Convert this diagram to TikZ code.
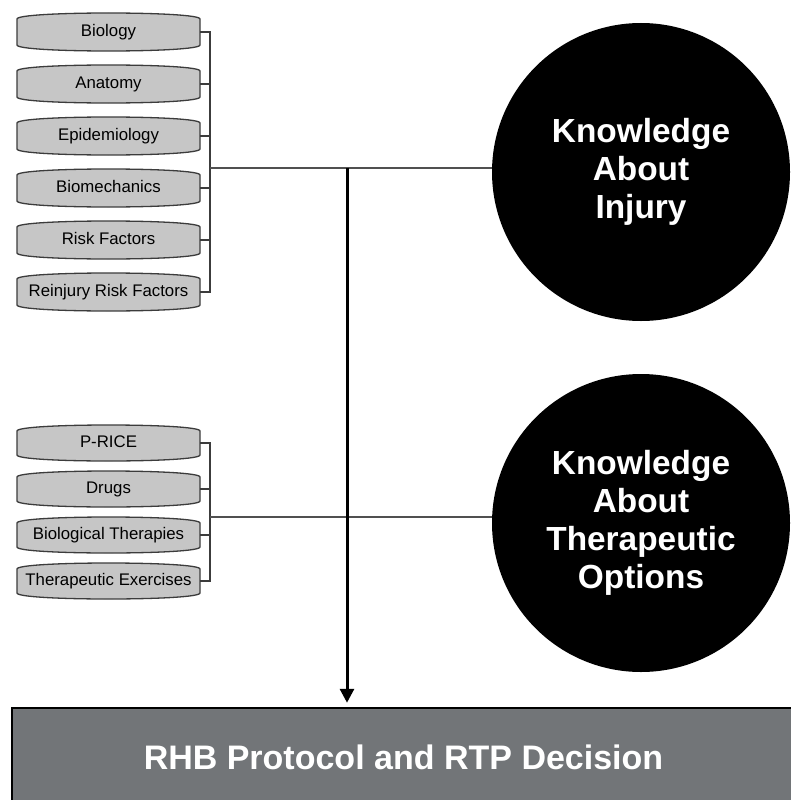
\documentclass[tikz,border=0pt]{standalone}
\usepackage{fontspec}
\setmainfont{Liberation Sans}
\usetikzlibrary{arrows.meta}
\definecolor{boxgray}{RGB}{198,198,198}
\definecolor{edgegray}{RGB}{60,60,60}
\definecolor{linegray}{RGB}{80,80,80}
\definecolor{basegray}{RGB}{114,117,120}
\tikzset{
  barrelline/.style={draw=edgegray, fill=boxgray, line width=1.3pt},
  boxlabel/.style={rectangle, inner sep=0pt, minimum width=183pt,
    font=\fontsize{16.8}{20}\selectfont, text height=0.88em, text depth=0pt},
  bubble/.style={circle, fill=black, inner sep=0pt, minimum size=298pt,
    text=white, align=center, font=\bfseries\fontsize{33.4}{38}\selectfont},
  bracketline/.style={draw=edgegray, line width=1.3pt},
  mainline/.style={draw=linegray, line width=2pt},
  arrowline/.style={draw=black, line width=3pt, -{Triangle[width=14pt,length=14pt]}, shorten >=4pt},
  basebox/.style={rectangle, draw=black, line width=2.5pt, fill=basegray,
    text=white, font=\bfseries\fontsize{34}{40}\selectfont,
    minimum width=783pt, minimum height=98pt, inner sep=0pt}
}
\newcommand\barrelbox[5]{%
  \path[barrelline] ({#2-91.5},{#3-#4/2+6}) -- ({#2-91.5},{#3+#4/2-6})
    .. controls ({#2-91.5},{#3+#4/2+2}) and ({#2+91.5},{#3+#4/2+2}) .. ({#2+91.5},{#3+#4/2-6})
    -- ({#2+91.5},{#3-#4/2+6})
    .. controls ({#2+91.5},{#3-#4/2-2}) and ({#2-91.5},{#3-#4/2-2}) .. cycle;
  \node[boxlabel, minimum height=#4] (#1) at (#2,#3) {#5};}
\begin{document}
\begin{tikzpicture}[x=1pt, y=-1pt]
\fill[white] (0,0) rectangle (791,800);
\useasboundingbox (0,0) rectangle (791,800);

% top group
\barrelbox{bio}{108.5}{32}{38}{Biology}
\barrelbox{ana}{108.5}{84}{38}{Anatomy}
\barrelbox{epi}{108.5}{136}{38}{Epidemiology}
\barrelbox{bmc}{108.5}{188}{38}{Biomechanics}
\barrelbox{rf}{108.5}{240}{38}{Risk Factors}
\barrelbox{rrf}{108.5}{292}{38}{Reinjury Risk Factors}

% bottom group
\barrelbox{price}{108.5}{443}{36}{P-RICE}
\barrelbox{drugs}{108.5}{489}{36}{Drugs}
\barrelbox{biot}{108.5}{535}{36}{Biological Therapies}
\barrelbox{texe}{108.5}{581}{36}{Therapeutic Exercises}

% circles
\node[bubble] (kinj) at (641,172) {Knowledge\\About\\Injury};
\node[bubble] (kther) at (641,523) {Knowledge\\About\\Therapeutic\\Options};

% base box
\node[basebox] (rhb) at (403.5,757) {RHB Protocol and RTP Decision};

% junctions
\coordinate (j1) at (210,168);
\coordinate (j2) at (210,517);
\coordinate (a0) at (347,168);

\foreach \n in {bio,ana,epi,bmc,rf,rrf} \draw[bracketline] (\n.east) -| (j1);
\foreach \n in {price,drugs,biot,texe} \draw[bracketline] (\n.east) -| (j2);

\draw[mainline] (j1) -- (j1 -| kinj.west);
\draw[mainline] (j2) -- (j2 -| kther.west);
\draw[arrowline] (a0) -- (a0 |- rhb.north);
\end{tikzpicture}
\end{document}
